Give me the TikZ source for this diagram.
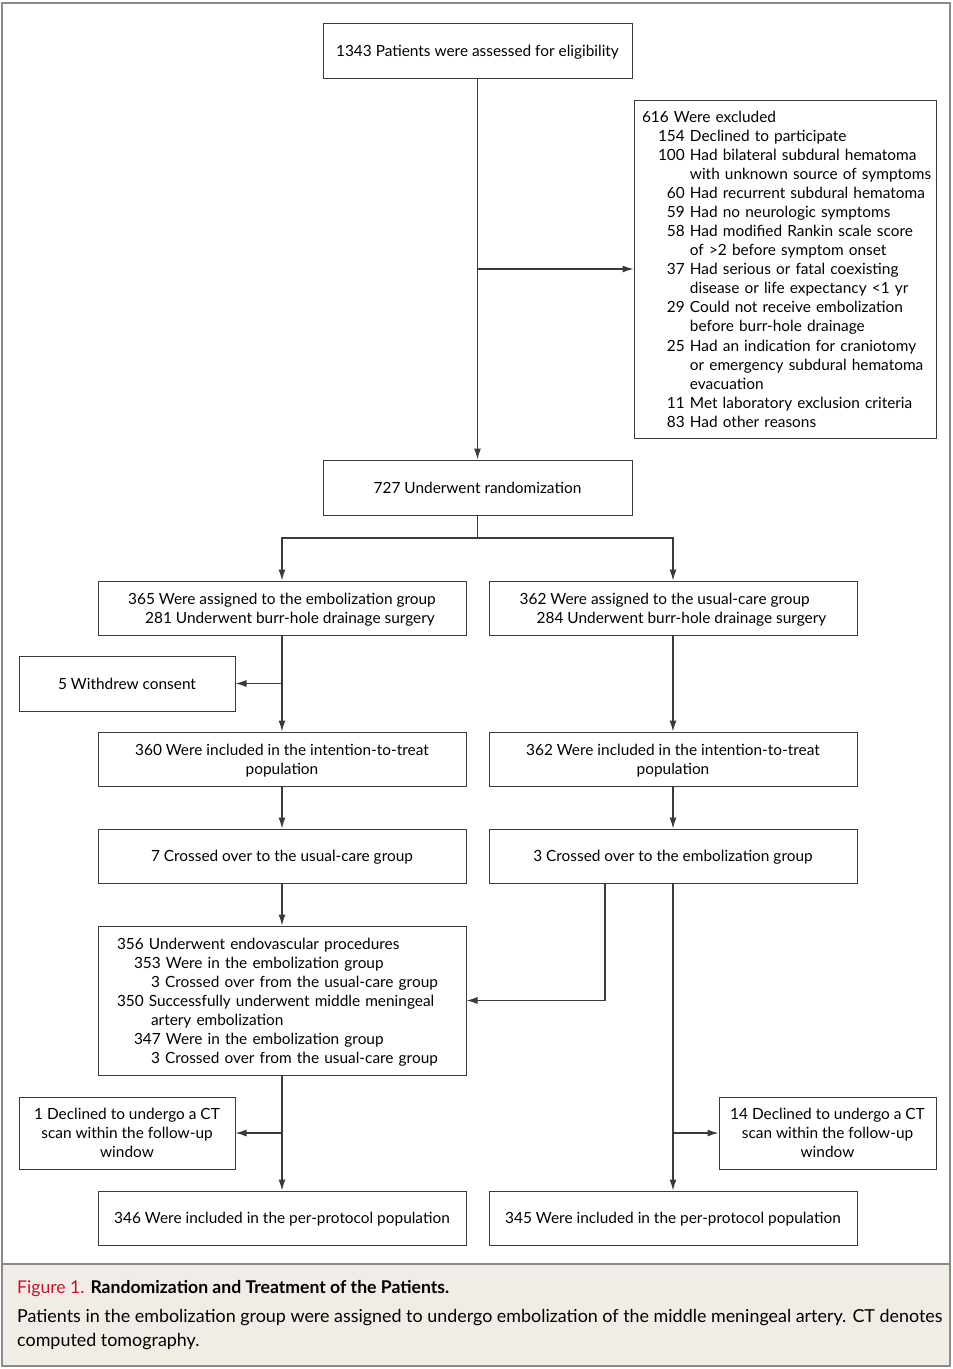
\documentclass[tikz,border=0pt]{standalone}
\usepackage{fontspec}
\setmainfont{Lato}
\usetikzlibrary{arrows.meta}
\definecolor{boxline}{HTML}{3A3A3A}
\definecolor{frameline}{HTML}{8A8A8A}
\definecolor{capbg}{HTML}{F1EDE6}
\definecolor{figred}{HTML}{C8102E}
\newcommand{\lowertext}[1]{\raisebox{-2pt}[\height][\depth]{#1}}
\newcommand{\ctab}[1]{\lowertext{\begin{tabular}{@{}c@{}}#1\end{tabular}}}
\newcommand{\ltab}[1]{\lowertext{\begin{tabular}{@{}l@{}}#1\end{tabular}}}
\begin{document}
\begin{tikzpicture}[x=1pt,y=-1pt,
  box/.style={draw=boxline, line width=1pt, rectangle, inner sep=0pt,
    font=\fontsize{15.4}{19.06}\selectfont, align=center},
  flow/.style={draw=boxline, line width=1.2pt},
  arr/.style={flow, -{Latex[length=11pt,width=7pt]}}]
\useasboundingbox (0,0) rectangle (953,1369);
% frame and caption
\fill[capbg] (2,1264) rectangle (950,1366);
\draw[frameline, line width=1.5pt] (2,3) rectangle (950,1366);
\draw[frameline, line width=1.5pt] (2,1264) -- (950,1264);
\node[anchor=base west, inner sep=0pt, font=\fontsize{17.6}{20}\selectfont] (captitle) at (17,1293)
  {\textcolor{figred}{Figure 1.} \textbf{Randomization and Treatment of the Patients.}};
\node[anchor=north west, inner sep=0pt, align=left,
  font=\fontsize{17.9}{24}\selectfont] (capbody) at (17,1309)
  {Patients in the embolization group were assigned to undergo embolization of the middle meningeal artery. CT denotes\\computed tomography.};
% boxes
\node[box, minimum width=309pt, minimum height=55pt] (a) at (477.5,50.5)
  {\ctab{1343 Patients were assessed for eligibility}};
\node[box, minimum width=302pt, minimum height=338pt, text width=286pt, align=left] (excl) at (785,269)
  {\lowertext{\begin{tabular}{@{\hspace{16pt}}r@{ }l@{}}
  \multicolumn{2}{@{}l@{}}{616 Were excluded}\\
  154 & Declined to participate\\
  100 & Had bilateral subdural hematoma\\
      & with unknown source of symptoms\\
  60 & Had recurrent subdural hematoma\\
  59 & Had no neurologic symptoms\\
  58 & Had modified Rankin scale score\\
     & of >2 before symptom onset\\
  37 & Had serious or fatal coexisting\\
     & disease or life expectancy <1 yr\\
  29 & Could not receive embolization\\
     & before burr-hole drainage\\
  25 & Had an indication for craniotomy\\
     & or emergency subdural hematoma\\
     & evacuation\\
  11 & Met laboratory exclusion criteria\\
  83 & Had other reasons
  \end{tabular}}};
\node[box, minimum width=309pt, minimum height=55pt] (rand) at (477.5,487.5)
  {\ctab{727 Underwent randomization}};
\node[box, minimum width=368pt, minimum height=54pt] (embA) at (282,608)
  {\ltab{365 Were assigned to the embolization group\\\hspace*{17pt}281 Underwent burr-hole drainage surgery}};
\node[box, minimum width=368pt, minimum height=54pt] (ucA) at (673,608)
  {\ltab{362 Were assigned to the usual-care group\\\hspace*{17pt}284 Underwent burr-hole drainage surgery}};
\node[box, minimum width=216pt, minimum height=55pt] (wd) at (127,683.5)
  {\ctab{5 Withdrew consent}};
\node[box, minimum width=368pt, minimum height=54pt] (embITT) at (282,759)
  {\ctab{360 Were included in the intention-to-treat\\population}};
\node[box, minimum width=368pt, minimum height=54pt] (ucITT) at (673,759)
  {\ctab{362 Were included in the intention-to-treat\\population}};
\node[box, minimum width=368pt, minimum height=54pt] (embX) at (282,856)
  {\ctab{7 Crossed over to the usual-care group}};
\node[box, minimum width=368pt, minimum height=54pt] (ucX) at (673,856)
  {\ctab{3 Crossed over to the embolization group}};
\node[box, minimum width=368pt, minimum height=149pt, text width=330pt, align=left] (endo) at (282,1000.5)
  {\ltab{356 Underwent endovascular procedures\\
  \hspace*{17pt}353 Were in the embolization group\\
  \hspace*{34pt}3 Crossed over from the usual-care group\\
  350 Successfully underwent middle meningeal\\
  \hspace*{34pt}artery embolization\\
  \hspace*{17pt}347 Were in the embolization group\\
  \hspace*{34pt}3 Crossed over from the usual-care group}};
\node[box, minimum width=216pt, minimum height=72pt] (decL) at (127,1133)
  {\ctab{1 Declined to undergo a CT\\scan within the follow-up\\window}};
\node[box, minimum width=217pt, minimum height=72pt] (decR) at (827.5,1133)
  {\ctab{14 Declined to undergo a CT\\scan within the follow-up\\window}};
\node[box, minimum width=368pt, minimum height=54pt] (embPP) at (282,1218)
  {\ctab{346 Were included in the per-protocol population}};
\node[box, minimum width=368pt, minimum height=54pt] (ucPP) at (673,1218)
  {\ctab{345 Were included in the per-protocol population}};
% connectors
\draw[arr] (a.south) -- (rand.north);
\draw[arr] (a.south |- excl.west) -- (excl.west);
\coordinate (split) at (477.5,538);
\draw[flow] (rand.south) -- (split);
\draw[arr] (split) -| (embA.north);
\draw[arr] (split) -| (ucA.north);
\draw[arr] (embA.south) -- (embITT.north);
\draw[arr] (embA.south |- wd.east) -- (wd.east);
\draw[arr] (ucA.south) -- (ucITT.north);
\draw[arr] (embITT.south) -- (embX.north);
\draw[arr] (ucITT.south) -- (ucX.north);
\draw[arr] (embX.south) -- (endo.north);
\draw[arr] ([xshift=-68pt]ucX.south) |- (endo.east);
\draw[arr] (ucX.south) -- (ucPP.north);
\draw[arr] (ucX.south |- decR.west) -- (decR.west);
\draw[arr] (endo.south) -- (embPP.north);
\draw[arr] (endo.south |- decL.east) -- (decL.east);
\end{tikzpicture}
\end{document}
